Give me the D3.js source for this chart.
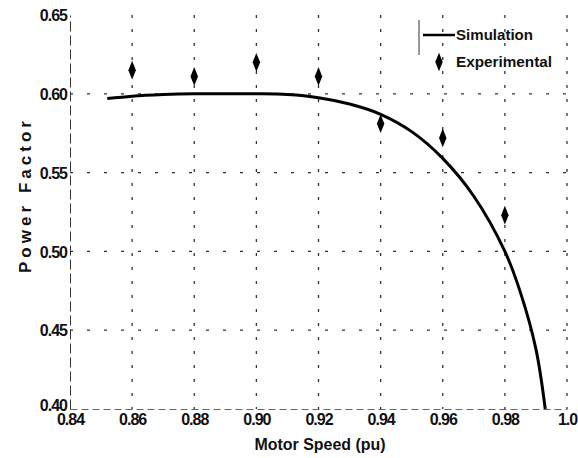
<!DOCTYPE html>
<html>
<head>
<meta charset="utf-8">
<script src="https://cdn.jsdelivr.net/npm/d3@7"></script>
<style>
	body { margin: 0; background: #fff; }
	text { font-family: "Liberation Sans", Arial, sans-serif; fill: #111; font-weight: bold; }
</style>
</head>
<body>
<div id="chart"></div>
<script>
// simulated curve (motor speed pu, power factor)
var simSpeed = [0.852, 0.86, 0.87, 0.88, 0.89, 0.90, 0.91, 0.92, 0.93, 0.94, 0.95, 0.96, 0.97, 0.98, 0.985, 0.99, 0.993]
var simPF = [0.597, 0.5985, 0.5995, 0.600, 0.600, 0.600, 0.5995, 0.5975, 0.5935, 0.587, 0.576, 0.559, 0.535, 0.500, 0.474, 0.438, 0.400]

// measured points
var expSpeed = [0.86, 0.88, 0.90, 0.92, 0.94, 0.96, 0.98]
var expPF = [0.615, 0.611, 0.620, 0.611, 0.581, 0.572, 0.523]

var xTicks = [0.84, 0.86, 0.88, 0.90, 0.92, 0.94, 0.96, 0.98, 1.0]
var xTickLabels = ["0.84", "0.86", "0.88", "0.90", "0.92", "0.94", "0.96", "0.98", "1.0"]
var yTicks = [0.40, 0.45, 0.50, 0.55, 0.60, 0.65]
var yTickLabels = ["0.40", "0.45", "0.50", "0.55", "0.60", "0.65"]

var legendLabels = ["Simulation", "Experimental"]

;(function() {
	var width = 578
	var height = 458

	var svg = d3.select("#chart")
		.append("svg")
		.attr("width", width)
		.attr("height", height)

	var x = d3.scaleLinear()
		.domain([0.84, 1.0])
		.range([70, 567])

	var y = d3.scaleLinear()
		.domain([0.40, 0.65])
		.range([409, 15])

	// grid
	svg.selectAll(".vgrid")
		.data(xTicks.slice(1))
		.enter().append("line")
		.attr("class", "vgrid")
		.attr("x1", d => x(d)).attr("x2", d => x(d))
		.attr("y1", y(0.65)).attr("y2", y(0.40))
		.attr("stroke", "#333")
		.attr("stroke-width", 1.3)
		.attr("stroke-dasharray", "3,11")

	svg.selectAll(".hgrid")
		.data(yTicks.slice(1, 5))
		.enter().append("line")
		.attr("class", "hgrid")
		.attr("x1", x(0.84)).attr("x2", x(1.0))
		.attr("y1", d => y(d)).attr("y2", d => y(d))
		.attr("stroke", "#333")
		.attr("stroke-width", 1.3)
		.attr("stroke-dasharray", "3,14")

	// axes
	var yAxis = d3.axisLeft(y)
		.tickValues(yTicks)
		.tickFormat((d, i) => yTickLabels[i])
		.tickSize(0)
		.tickPadding(3)

	var gy = svg.append("g")
		.attr("transform", "translate(" + x(0.84) + ",0)")
		.call(yAxis)
	gy.select(".domain")
		.attr("stroke", "#333")
		.attr("stroke-dasharray", "10,4")
	gy.selectAll("text")
		.style("font-size", "16px")
		.style("letter-spacing", "-1px")
		.attr("dy", (d, i) => i === 0 ? "0.1em" : "0.36em")

	var xAxis = d3.axisBottom(x)
		.tickValues(xTicks)
		.tickFormat((d, i) => xTickLabels[i])
		.tickSize(0)
		.tickPadding(5)

	var gx = svg.append("g")
		.attr("transform", "translate(0," + y(0.40) + ")")
		.call(xAxis)
	gx.select(".domain")
		.attr("stroke", "#666")
		.attr("stroke-dasharray", "7,4")
	gx.selectAll("text")
		.style("font-size", "16px")
		.style("letter-spacing", "-1px")

	// axis titles
	svg.append("text")
		.attr("x", 320)
		.attr("y", 450)
		.attr("text-anchor", "middle")
		.style("font-size", "16px")
		.attr("textLength", 131)
		.attr("lengthAdjust", "spacingAndGlyphs")
		.text("Motor Speed (pu)")

	svg.append("text")
		.attr("transform", "translate(31,197) rotate(-90)")
		.attr("text-anchor", "middle")
		.style("font-size", "17px")
		.attr("textLength", 152)
		.attr("lengthAdjust", "spacing")
		.text("Power Factor")

	// simulation line
	var line = d3.line()
		.x((d, i) => x(simSpeed[i]))
		.y(d => y(d))
		.curve(d3.curveCatmullRom)

	svg.append("path")
		.datum(simPF)
		.attr("d", line)
		.attr("fill", "none")
		.attr("stroke", "#000")
		.attr("stroke-width", 3)

	// experimental diamonds
	var diamond = d3.symbol().type(d3.symbolDiamond).size(60)

	svg.selectAll(".exp")
		.data(expPF)
		.enter().append("path")
		.attr("class", "exp")
		.attr("d", diamond)
		.attr("transform", (d, i) => "translate(" + x(expSpeed[i]) + "," + y(d) + ") scale(0.9,1.3)")
		.attr("fill", "#000")

	// legend
	var lg = svg.append("g")
	lg.append("line")
		.attr("x1", 419).attr("x2", 419)
		.attr("y1", 20).attr("y2", 55)
		.attr("stroke", "#333")
	lg.append("line")
		.attr("x1", 423).attr("x2", 455)
		.attr("y1", 35).attr("y2", 35)
		.attr("stroke", "#000")
		.attr("stroke-width", 2.5)
	lg.append("path")
		.attr("d", diamond)
		.attr("transform", "translate(439,62) scale(0.9,1.3)")
		.attr("fill", "#000")
	lg.selectAll(".ltext")
		.data(legendLabels)
		.enter().append("text")
		.attr("class", "ltext")
		.attr("x", 456)
		.attr("y", (d, i) => 35 + i * 27)
		.attr("dy", "0.35em")
		.style("font-size", "15px")
		.attr("textLength", (d, i) => i === 0 ? 77 : 96)
		.attr("lengthAdjust", "spacingAndGlyphs")
		.text(d => d)
})();
</script>
</body>
</html>
